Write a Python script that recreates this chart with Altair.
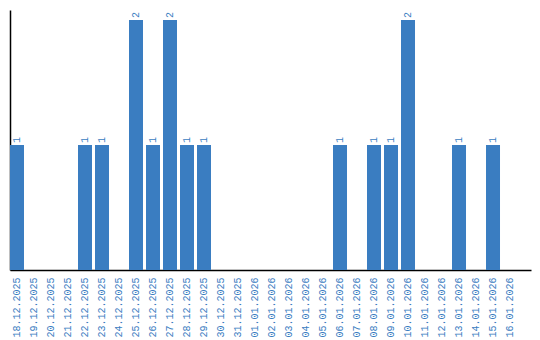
import altair as alt
import pandas as pd

dates = ["18.12.2025", "19.12.2025", "20.12.2025", "21.12.2025", "22.12.2025",
         "23.12.2025", "24.12.2025", "25.12.2025", "26.12.2025", "27.12.2025",
         "28.12.2025", "29.12.2025", "30.12.2025", "31.12.2025", "01.01.2026",
         "02.01.2026", "03.01.2026", "04.01.2026", "05.01.2026", "06.01.2026",
         "07.01.2026", "08.01.2026", "09.01.2026", "10.01.2026", "11.01.2026",
         "12.01.2026", "13.01.2026", "14.01.2026", "15.01.2026", "16.01.2026"]
counts = [1, 0, 0, 0, 1,
          1, 0, 2, 1, 2,
          1, 1, 0, 0, 0,
          0, 0, 0, 0, 1,
          0, 1, 1, 2, 0,
          0, 1, 0, 1, 0]

df = pd.DataFrame({"date": dates, "count": counts})
df_lab = df[df["count"] > 0]

BLUE = "#3a7dc1"

x = alt.X("date:N", sort=dates,
          scale=alt.Scale(paddingInner=3/17, paddingOuter=0.4115, align=0),
          axis=alt.Axis(title=None, labelAngle=-90, labelAlign="right",
                        labelBaseline="middle", labelPadding=7, ticks=False,
                        labelFont="Liberation Mono", labelFontSize=10,
                        labelColor=BLUE, domainColor="black", domainWidth=1.5))
y = alt.Y("count:Q", scale=alt.Scale(domain=[0, 2.08], nice=False),
          axis=alt.Axis(title=None, labels=False, ticks=False, grid=False,
                        domainColor="black", domainWidth=1.5))

bars = alt.Chart(df).mark_bar(color=BLUE).encode(x=x, y=y)
labels = alt.Chart(df_lab).mark_text(
    angle=270, align="left", baseline="middle", dx=2,
    font="Liberation Mono", fontSize=10, color=BLUE
).encode(x=alt.X("date:N", sort=dates), y="count:Q", text="count:Q")

chart = (bars + labels).properties(
    width=521, height=260,
    background="white",
    autosize=alt.AutoSizeParams(type="none"),
    padding={"left": 10, "top": 10, "right": 9, "bottom": 70},
).configure_view(stroke=None)

chart.save("out.html", embed_options={"renderer": "svg", "actions": False})
